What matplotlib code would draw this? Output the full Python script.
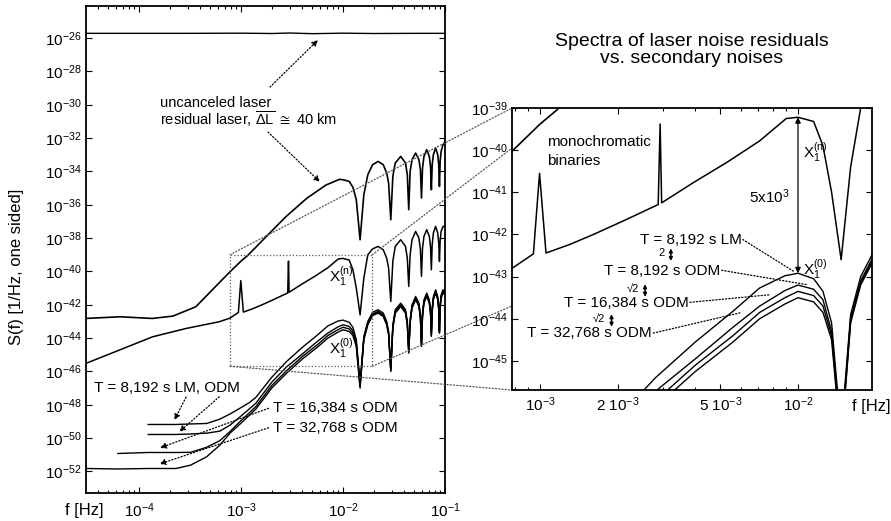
import numpy as np
import matplotlib
matplotlib.use("Agg")
import matplotlib.pyplot as plt
from matplotlib.patches import ConnectionPatch
from matplotlib.ticker import LogLocator, NullLocator, NullFormatter, FuncFormatter

plt.rcParams['font.family'] = ['Liberation Sans', 'DejaVu Sans']
plt.rcParams['mathtext.fontset'] = 'custom'
plt.rcParams['mathtext.rm'] = 'Liberation Sans'
plt.rcParams['mathtext.it'] = 'Liberation Sans'
plt.rcParams['mathtext.sf'] = 'Liberation Sans'
plt.rcParams['mathtext.bf'] = 'Liberation Sans:bold'

# frequencies in Hz, spectra as log10 S(f)

# uncanceled laser noise
f_unc = [3.0e-5, 1e-4, 3e-4, 1e-3, 2e-3, 3e-3, 5e-3, 1e-2, 2e-2, 5e-2, 1e-1]
s_unc = [-25.72, -25.72, -25.72, -25.71, -25.73, -25.70, -25.74, -25.71, -25.73, -25.72, -25.72]

# shared grid above 10 mHz (arms nulls at ~14.7 mHz multiples)
f_tail = [1.00e-2, 1.15e-2, 1.25e-2, 1.35e-2, 1.47e-2,
          1.60e-2, 1.75e-2, 1.95e-2, 2.21e-2, 2.48e-2, 2.68e-2, 2.80e-2, 2.94e-2,
          3.08e-2, 3.25e-2, 3.68e-2, 4.10e-2, 4.27e-2, 4.41e-2,
          4.55e-2, 4.75e-2, 5.15e-2, 5.55e-2, 5.74e-2, 5.88e-2,
          6.02e-2, 6.22e-2, 6.62e-2, 7.02e-2, 7.21e-2, 7.35e-2,
          7.49e-2, 7.69e-2, 8.09e-2, 8.49e-2, 8.68e-2, 8.82e-2,
          8.96e-2, 9.16e-2, 9.56e-2, 1.00e-1]

# residual laser, dL ~ 40 km
f_res = [3.0e-5, 6.5e-5, 1.35e-4, 2.15e-4, 3.6e-4, 5.2e-4, 7.8e-4, 1.0e-3, 1.16e-3,
         1.76e-3, 2.75e-3, 4.4e-3, 6.8e-3, 9.2e-3]
s_res = [-42.82, -42.72, -42.82, -42.68, -42.12, -41.12, -40.02, -39.38, -39.05,
         -37.92, -36.72, -35.62, -34.82, -34.48]
s_res_tail = [-34.50, -34.60, -34.95, -35.70, -38.10,
              -35.40, -34.20, -33.60, -33.40, -33.60, -34.10, -34.70, -36.90,
              -34.30, -33.50, -33.10, -33.50, -34.20, -36.30,
              -34.00, -33.30, -32.90, -33.30, -33.90, -35.60,
              -33.80, -33.10, -32.70, -33.10, -33.70, -35.10,
              -33.60, -33.00, -32.60, -33.00, -33.60, -34.90,
              -33.40, -32.80, -32.40, -32.20]

# X1(n): secondary noises + binaries
f_xn = [3.0e-5, 6.4e-5, 1.36e-4, 2.9e-4, 6.1e-4, 7.8e-4, 9.42e-4, 9.95e-4, 1.054e-3,
        1.3e-3, 1.61e-3, 2.17e-3, 2.87e-3, 2.92e-3, 2.96e-3, 3.93e-3, 5.3e-3, 7.1e-3, 9.0e-3]
s_xn = [-45.52, -44.72, -43.92, -43.42, -43.02, -42.80, -42.46, -40.55, -42.44,
        -42.24, -42.00, -41.64, -41.29, -39.38, -41.25, -40.77, -40.29, -39.78, -39.25]
s_xn_tail = [-39.22, -39.32, -39.90, -41.00, -42.60,
             -40.40, -39.00, -38.65, -38.50, -38.70, -39.20, -39.80, -41.80,
             -39.40, -38.50, -38.10, -38.50, -39.20, -40.90,
             -39.00, -38.10, -37.60, -38.00, -38.70, -40.30,
             -38.60, -37.90, -37.50, -37.90, -38.50, -39.90,
             -38.40, -37.70, -37.30, -37.70, -38.30, -39.40,
             -38.20, -37.60, -37.30, -37.30]

# X1(0): laser residuals for the different data lengths / methods
f_x0 = [3.0e-5, 6.2e-5, 1.23e-4, 2.3e-4, 3.2e-4, 4.6e-4, 6.2e-4, 7.8e-4, 9.8e-4,
        1.22e-3, 1.4e-3, 2.0e-3, 2.8e-3, 4.0e-3, 5.6e-3, 7.1e-3, 8.9e-3]
lm_8192 = [np.nan, np.nan, -49.18, -49.18, -49.15, -49.12, -48.86, -48.55, -48.20,
           -47.85, -47.55, -46.35, -45.40, -44.55, -43.82, -43.27, -42.98]
odm_8192 = [np.nan, np.nan, -49.78, -49.78, -49.75, -49.70, -49.58, -49.22, -48.72,
            -48.22, -47.90, -46.65, -45.72, -44.95, -44.20, -43.70, -43.33]
odm_16384 = [np.nan, -50.92, -50.86, -50.86, -50.85, -50.55, -50.15, -49.60, -49.00,
             -48.45, -48.10, -46.85, -45.95, -45.10, -44.40, -43.85, -43.50]
odm_32768 = [-51.82, -51.85, -51.82, -51.82, -51.62, -51.12, -50.42, -49.70, -49.15,
             -48.60, -48.25, -47.00, -46.10, -45.25, -44.55, -44.00, -43.65]
lm_8192_tail = [-42.92, -43.05, -43.35, -44.10, -46.70,
                -43.90, -43.00, -42.45, -42.30, -42.50, -43.00, -43.60, -45.80,
                -43.20, -42.30, -41.90, -42.30, -43.00, -44.70,
                -42.90, -42.00, -41.50, -41.90, -42.60, -44.30,
                -42.50, -41.70, -41.30, -41.70, -42.30, -43.70,
                -42.20, -41.50, -41.10, -41.50, -42.10, -43.50,
                -42.00, -41.40, -41.10, -41.20]
odm_8192_tail = [-43.20, -43.30, -43.55, -44.30, -46.80,
                 -44.00, -43.10, -42.55, -42.40, -42.60, -43.10, -43.70, -45.90,
                 -43.30, -42.40, -42.00, -42.40, -43.10, -44.80,
                 -43.00, -42.10, -41.60, -42.00, -42.70, -44.40,
                 -42.60, -41.80, -41.40, -41.80, -42.40, -43.80,
                 -42.30, -41.60, -41.20, -41.60, -42.20, -43.60,
                 -42.10, -41.50, -41.20, -41.30]
odm_16384_tail = [-43.35, -43.45, -43.70, -44.40, -46.90,
                  -44.05, -43.15, -42.60, -42.45, -42.65, -43.15, -43.75, -45.95,
                  -43.35, -42.45, -42.05, -42.45, -43.15, -44.85,
                  -43.05, -42.15, -41.65, -42.05, -42.75, -44.45,
                  -42.65, -41.85, -41.45, -41.85, -42.45, -43.85,
                  -42.35, -41.65, -41.25, -41.65, -42.25, -43.65,
                  -42.15, -41.55, -41.25, -41.35]
odm_32768_tail = [-43.50, -43.60, -43.85, -44.50, -47.00,
                  -44.10, -43.20, -42.65, -42.50, -42.70, -43.20, -43.80, -46.00,
                  -43.40, -42.50, -42.10, -42.50, -43.20, -44.90,
                  -43.10, -42.20, -41.70, -42.10, -42.80, -44.50,
                  -42.70, -41.90, -41.50, -41.90, -42.50, -43.90,
                  -42.40, -41.70, -41.30, -41.70, -42.30, -43.70,
                  -42.20, -41.60, -41.30, -41.40]


def spec(v):
    return 10.0 ** np.asarray(v, dtype=float)


fA, SA = np.array(f_unc), spec(s_unc)
fB, SB = np.array(f_res + f_tail), spec(s_res + s_res_tail)
fN, SN = np.array(f_xn + f_tail), spec(s_xn + s_xn_tail)
f0 = np.array(f_x0 + f_tail)
X0 = [spec(lm_8192 + lm_8192_tail), spec(odm_8192 + odm_8192_tail),
      spec(odm_16384 + odm_16384_tail), spec(odm_32768 + odm_32768_tail)]

fig = plt.figure(figsize=(8.91, 5.21), dpi=100)
ax1 = fig.add_axes([86/891, 28/521, 359/891, 487/521], zorder=0)
ax2 = fig.add_axes([512/891, 131/521, 360/891, 282/521], zorder=2)

dot = (0, (1, 1.6))
FS = 11

for ax in (ax1, ax2):
    ax.plot(fA, SA, 'k', lw=1.0)
    ax.plot(fB, SB, 'k', lw=1.2)
    ax.plot(fN, SN, 'k', lw=1.1)
    for s in X0:
        ax.plot(f0, s, 'k', lw=1.0)
    ax.set_xscale('log')
    ax.set_yscale('log')
    ax.tick_params(which='both', direction='in', top=True, right=True, labelsize=FS, width=0.8)
    ax.tick_params(which='major', length=4)
    ax.tick_params(which='minor', length=2)
    for sp in ax.spines.values():
        sp.set_linewidth(1.3)

expfmt = FuncFormatter(lambda v, p: r'$10^{%d}$' % int(round(np.log10(v))))

# left panel
ax1.set_xlim(10**-4.52, 1e-1)
ax1.set_ylim(10**-53.29, 10**-24.08)
ax1.set_yticks([10.0**e for e in range(-52, -25, 2)])
ax1.yaxis.set_major_formatter(expfmt)
ax1.yaxis.set_minor_locator(NullLocator())
ax1.set_xticks([1e-4, 1e-3, 1e-2, 1e-1])
ax1.xaxis.set_major_formatter(expfmt)
ax1.xaxis.set_minor_locator(LogLocator(base=10, subs=np.arange(2, 10)))
ax1.xaxis.set_minor_formatter(NullFormatter())
ax1.tick_params(axis='x', pad=6)
ax1.tick_params(axis='y', pad=3)

# right panel (zoom)
ax2.set_xlim(10**-3.109, 10**-1.713)
ax2.set_ylim(10**-45.69, 1e-39)
ax2.set_xticks([1e-3, 2e-3, 5e-3, 1e-2],
               [r'$10^{-3}$', r'$2\ 10^{-3}$', r'$5\ 10^{-3}$', r'$10^{-2}$'])
ax2.xaxis.set_minor_locator(LogLocator(base=10, subs=np.arange(1, 10)))
ax2.xaxis.set_minor_formatter(NullFormatter())
ax2.set_yticks([10.0**e for e in range(-45, -38)])
ax2.yaxis.set_major_formatter(expfmt)
ax2.yaxis.set_minor_locator(NullLocator())
ax2.tick_params(axis='x', pad=4)
ax2.tick_params(axis='y', pad=3)

# zoom box and connecting lines
x0, x1 = ax2.get_xlim()
y0, y1 = ax2.get_ylim()
ax1.plot([x0, x1, x1, x0, x0], [y0, y0, y1, y1, y0], ls=dot, color='0.35', lw=0.9)
for xyA, xyB in [((x0, y1), (0, 1)), ((x1, y1), (0, 0.858)),
                 ((x1, y0), (0, 0.298)), ((x0, y0), (0, 0))]:
    con = ConnectionPatch(xyA=xyA, coordsA=ax1.transData, xyB=xyB, coordsB=ax2.transAxes,
                          ls=dot, lw=0.9, color='0.35', zorder=1)
    fig.add_artist(con)


def L(a, b):
    return (10.0**a, 10.0**b)


def darrow(ax, start, tip, head=True):
    style = '-|>' if head else '-'
    ax.annotate('', xy=tip, xytext=start, annotation_clip=False,
                arrowprops=dict(arrowstyle=style, ls=dot, lw=0.9, color='k',
                                mutation_scale=9, shrinkA=0, shrinkB=0))


def ratio_mark(ax, label, lf, ls):
    # small "factor" label with a short double arrow to its right
    ax.text(*L(lf - 0.012, ls + 0.03), label, fontsize=8, ha='right', va='center')
    ax.annotate('', xy=L(lf + 0.012, ls + 0.15), xytext=L(lf + 0.012, ls - 0.15),
                arrowprops=dict(arrowstyle='<|-|>', lw=1.1, color='k', mutation_scale=5,
                                shrinkA=0, shrinkB=0))


# left panel annotations
ax1.text(*L(-3.794, -29.9), 'uncanceled laser', fontsize=10.5, va='center')
ax1.text(*L(-3.794, -30.85), r'residual laser, $\overline{\Delta\mathrm{L}}\ \cong$ 40 km',
         fontsize=10.5, va='center')
darrow(ax1, L(-2.716, -28.94), L(-2.245, -26.12))
darrow(ax1, L(-2.735, -31.64), L(-2.225, -34.64))
ax1.text(*L(-2.02, -40.31), r'$\mathrm{X}_1^{(n)}$', fontsize=FS, ha='center', va='center')
ax1.text(*L(-2.02, -44.6), r'$\mathrm{X}_1^{(0)}$', fontsize=FS, ha='center', va='center')
ax1.text(*L(-4.441, -47.0), 'T = 8,192 s LM, ODM', fontsize=FS, va='center')
darrow(ax1, L(-3.539, -47.54), L(-3.654, -48.92))
darrow(ax1, L(-3.213, -47.52), L(-3.606, -49.62))
ax1.text(*L(-2.686, -48.2), 'T = 16,384 s ODM', fontsize=FS, va='center')
darrow(ax1, L(-2.73, -48.21), L(-3.794, -50.58))
ax1.text(*L(-2.686, -49.4), 'T = 32,768 s ODM', fontsize=FS, va='center')
darrow(ax1, L(-2.73, -49.38), L(-3.80, -51.55))
ax1.text(-0.006, -0.035, 'f [Hz]', transform=ax1.transAxes, fontsize=12,
         ha='center', va='center')
fig.text(17/891, 1 - 267/521, 'S(f) [1/Hz, one sided]', rotation=90, fontsize=12,
         ha='center', va='center')

# right panel annotations
ax2.text(0.4986, 1.2057, 'Spectra of laser noise residuals\nvs. secondary noises',
         transform=ax2.transAxes, fontsize=14, ha='center', va='center', linespacing=0.95)
ax2.text(*L(-2.973, -39.81), 'monochromatic', fontsize=FS, va='center')
ax2.text(*L(-2.973, -40.26), 'binaries', fontsize=FS, va='center')
ax2.annotate('', xy=(f_tail[0], 10.0**s_xn_tail[0]), xytext=(f_tail[0], 10.0**lm_8192_tail[0]),
             arrowprops=dict(arrowstyle='<|-|>', lw=0.9, color='k', mutation_scale=8,
                             shrinkA=0, shrinkB=0))
ax2.text(*L(-2.031, -41.1), r'5x10$^3$', fontsize=FS, ha='right', va='center')
ax2.text(*L(-1.934, -40.05), r'$\mathrm{X}_1^{(n)}$', fontsize=FS, ha='center', va='center')
ax2.text(*L(-1.934, -42.83), r'$\mathrm{X}_1^{(0)}$', fontsize=FS, ha='center', va='center')

ax2.text(*L(-2.218, -42.12), 'T = 8,192 s LM', fontsize=FS, ha='right', va='center')
darrow(ax2, L(-2.214, -42.12), L(-2.018, -42.87), head=False)
ratio_mark(ax2, '2', -2.505, -42.48)
ax2.text(*L(-2.302, -42.87), 'T = 8,192 s ODM', fontsize=FS, ha='right', va='center')
darrow(ax2, L(-2.296, -42.85), L(-1.966, -43.19), head=False)
ratio_mark(ax2, '√2', -2.605, -43.33)
ax2.text(*L(-2.425, -43.63), 'T = 16,384 s ODM', fontsize=FS, ha='right', va='center')
darrow(ax2, L(-2.419, -43.61), L(-2.109, -43.43), head=False)
ratio_mark(ax2, '√2', -2.735, -44.04)
ax2.text(*L(-2.567, -44.34), 'T = 32,768 s ODM', fontsize=FS, ha='right', va='center')
darrow(ax2, L(-2.561, -44.34), L(-2.225, -43.86), head=False)
ax2.text(0.997, -0.06, 'f [Hz]', transform=ax2.transAxes, fontsize=12,
         ha='center', va='center')

fig.savefig('out.png', dpi=100)
